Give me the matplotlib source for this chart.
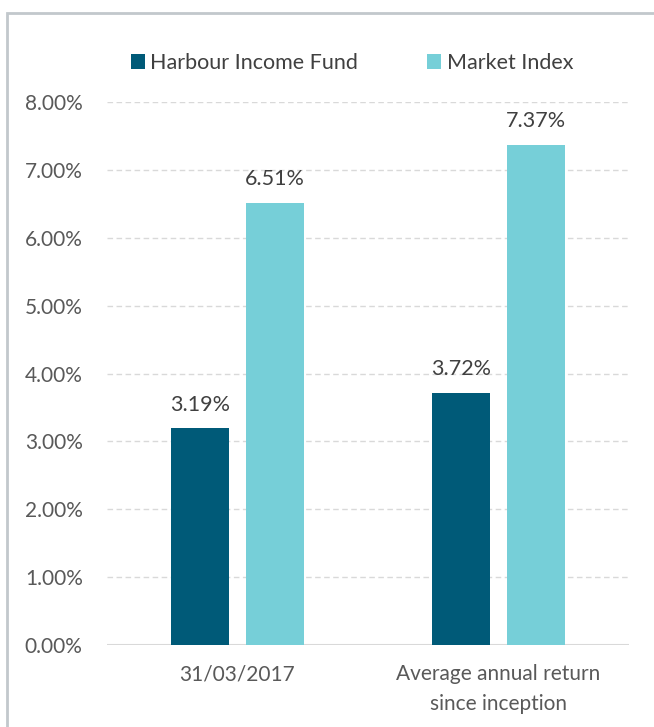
import matplotlib
matplotlib.use("Agg")
import matplotlib.pyplot as plt
from matplotlib.patches import Rectangle
import numpy as np

categories = ["31/03/2017", "Average annual return\nsince inception"]
series_names = ["Harbour Income Fund", "Market Index"]
fund_values = [3.19, 3.72]
index_values = [6.51, 7.37]
y_ticks = [0, 1, 2, 3, 4, 5, 6, 7, 8]

c_fund = "#005a78"
c_index = "#76cfd8"
txt = "#404040"
tick_txt = "#595959"

plt.rcParams['font.family'] = ['Lato', 'DejaVu Sans']

W, H = 654, 727
fig = plt.figure(figsize=(W / 100, H / 100), dpi=100)
ax = fig.add_axes([107 / W, 1 - 645 / H, (629 - 107) / W, (645 - 102) / H])

x = np.arange(len(categories))
bw = 0.222
off = 0.142
b1 = ax.bar(x - off, fund_values, bw, color=c_fund, label=series_names[0], zorder=3)
b2 = ax.bar(x + off, index_values, bw, color=c_index, label=series_names[1], zorder=3)

for bars, vals in ((b1, fund_values), (b2, index_values)):
    for r, v in zip(bars, vals):
        ax.annotate(f"{v:.2f}%", (r.get_x() + r.get_width() / 2, v),
                    xytext=(0, 10), textcoords="offset points",
                    ha="center", va="bottom", fontsize=15.5, color=txt)

ax.set_xlim(-0.5, 1.5)
ax.set_ylim(0, 8)
ax.set_yticks(y_ticks)
ax.set_yticklabels([f"{t:.2f}%" for t in y_ticks], fontsize=15, color=tick_txt)
ax.set_xticks(x)
ax.set_xticklabels(categories, fontsize=15, color=tick_txt, linespacing=1.6)
ax.tick_params(axis="both", length=0)
ax.tick_params(axis="y", pad=17.5)
ax.tick_params(axis="x", pad=14)
for s in ax.spines.values():
    s.set_visible(False)
ax.yaxis.grid(True, color="#d9d9d9", linestyle=(0, (4, 2.5)), linewidth=1.0, zorder=0)
ax.axhline(0, color="#d9d9d9", linewidth=1.5, zorder=2)

leg = fig.legend(handles=[b1, b2], labels=series_names, loc="center",
                 bbox_to_anchor=(352 / W, 1 - 63 / H), ncol=2, frameon=False,
                 fontsize=15.5, handlelength=0.65, handleheight=0.65,
                 handletextpad=0.25, columnspacing=3.2)
for t in leg.get_texts():
    t.set_color(txt)

fig.patches.append(Rectangle((7 / W, -0.05), 1.2, 1 - 12.5 / H + 0.05,
                             transform=fig.transFigure, fill=False,
                             edgecolor="#c2c8cc", linewidth=2.0))

fig.savefig("out.png", dpi=100)
